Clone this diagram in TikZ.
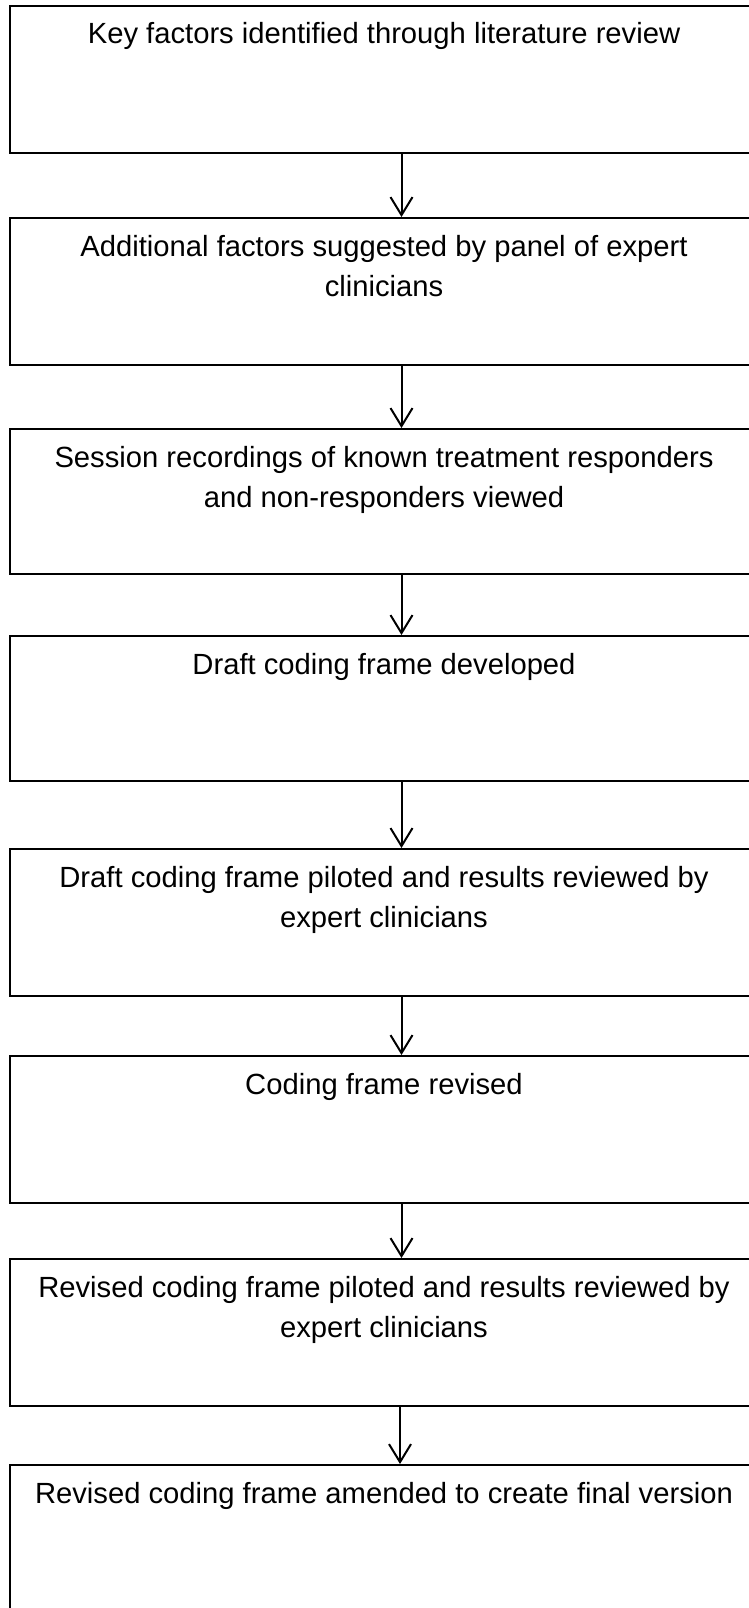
\documentclass[tikz,border=0pt]{standalone}
\usepackage{fontspec}
\setmainfont{Liberation Sans}
\usetikzlibrary{arrows.meta}
\begin{document}
\begin{tikzpicture}[x=1pt,y=1pt,
  stepbox/.style={draw=black, line width=2pt, fill=none, inner sep=0pt, minimum width=748pt, anchor=north},
  txt/.style={font=\fontsize{29.2}{40.5}\selectfont, align=center, inner sep=0pt, anchor=base},
  arr/.style={draw=black, line width=2pt, -{Straight Barb[length=18pt,width=22pt,line width=2pt]}}]
\useasboundingbox (0,0) rectangle (749,-1608);
\fill[white] (0,0) rectangle (749,-1608);
\node[stepbox, minimum height=147pt] (b1) at (384,-5) {};
\node[stepbox, minimum height=147pt] (b2) at (384,-217) {};
\node[stepbox, minimum height=145pt] (b3) at (384,-428) {};
\node[stepbox, minimum height=145pt] (b4) at (384,-635) {};
\node[stepbox, minimum height=147pt] (b5) at (384,-848) {};
\node[stepbox, minimum height=147pt] (b6) at (384,-1055) {};
\node[stepbox, minimum height=147pt] (b7) at (384,-1258) {};
\node[stepbox, minimum height=160pt] (b8) at (384,-1464) {};
\node[txt] (t1) at ([yshift=-39pt]b1.north) {Key factors identified through literature review};
\node[txt] (t2) at ([yshift=-79.5pt]b2.north) {Additional factors suggested by panel of expert\\clinicians};
\node[txt] (t3) at ([yshift=-79.5pt]b3.north) {Session recordings of known treatment responders\\and non-responders viewed};
\node[txt] (t4) at ([yshift=-39pt]b4.north) {Draft coding frame developed};
\node[txt] (t5) at ([yshift=-79.5pt]b5.north) {Draft coding frame piloted and results reviewed by\\expert clinicians};
\node[txt] (t6) at ([yshift=-39pt]b6.north) {Coding frame revised};
\node[txt] (t7) at ([yshift=-79.5pt]b7.north) {Revised coding frame piloted and results reviewed by\\expert clinicians};
\node[txt] (t8) at ([yshift=-39pt]b8.north) {Revised coding frame amended to create final version};
\draw[arr] ([xshift=17.5pt]b1.south) -- ([xshift=17.5pt]b2.north);
\draw[arr] ([xshift=17.5pt]b2.south) -- ([xshift=17.5pt]b3.north);
\draw[arr] ([xshift=17.5pt]b3.south) -- ([xshift=17.5pt]b4.north);
\draw[arr] ([xshift=17.5pt]b4.south) -- ([xshift=17.5pt]b5.north);
\draw[arr] ([xshift=17.5pt]b5.south) -- ([xshift=17.5pt]b6.north);
\draw[arr] ([xshift=17.5pt]b6.south) -- ([xshift=17.5pt]b7.north);
\draw[arr] ([xshift=16pt]b7.south) -- ([xshift=16pt]b8.north);
\end{tikzpicture}
\end{document}
